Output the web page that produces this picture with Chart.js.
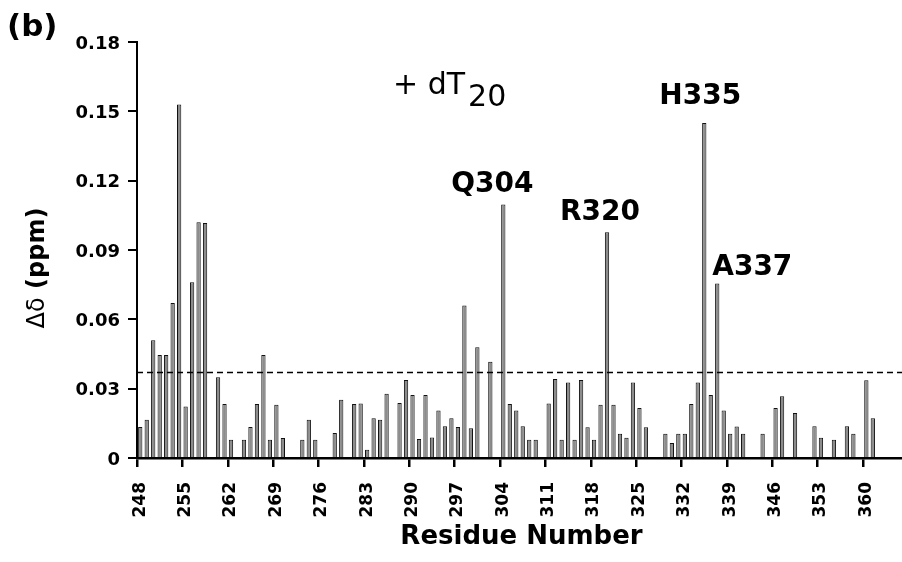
<!DOCTYPE html>
<html>
<head>
<meta charset="utf-8">
<script src="https://cdn.jsdelivr.net/npm/chart.js@4.4.1/dist/chart.umd.min.js"></script>
<style>
  body { margin: 0; background: #fff; }
  #wrap { width: 902px; height: 562px; }
</style>
</head>
<body>
<div id="wrap"><canvas id="shiftChart" width="902" height="562"></canvas></div>
<script>
// residues 248..365, one value per residue (null = no bar)
var firstResidue = 248;
var lastResidue = 365;

var shiftValues = [
  0.0134, 0.0166, 0.0509, 0.0446, 0.0446, 0.0671, 0.153, 0.0223, 0.076, 0.102,    // 248-257
  0.1017, null, 0.0349, 0.0234, 0.0079, null, 0.0079, 0.0134, 0.0234, 0.0446,     // 258-267
  0.0079, 0.023, 0.0087, null, null, 0.0079, 0.0166, 0.0079, null, null,          // 268-277
  0.0108, 0.0252, null, 0.0234, 0.0236, 0.0036, 0.0172, 0.0165, 0.0278, null,     // 278-287
  0.0238, 0.0338, 0.0273, 0.0082, 0.0273, 0.0089, 0.0205, 0.0137, 0.0172, 0.0134, // 288-297
  0.066, 0.0129, 0.0479, null, 0.0417, null, 0.1097, 0.0234, 0.0205, 0.0137,      // 298-307
  0.0079, 0.0079, null, 0.0236, 0.0342, 0.0079, 0.0327, 0.0079, 0.0338, 0.0133,   // 308-317
  0.0079, 0.023, 0.0977, 0.023, 0.0105, 0.0088, 0.0327, 0.0216, 0.0133, null,     // 318-327
  null, 0.0105, 0.0065, 0.0105, 0.0105, 0.0234, 0.0327, 0.145, 0.0273, 0.0755,    // 328-337
  0.0205, 0.0105, 0.0136, 0.0105, null, null, 0.0105, null, 0.0216, 0.0267,       // 338-347
  null, 0.0195, null, null, 0.0137, 0.0088, null, 0.0079, null, 0.0137,           // 348-357
  0.0105, null, 0.0336, 0.0172, null, null, null, null                            // 358-365
];

var tickResidues = [248, 255, 262, 269, 276, 283, 290, 297, 304, 311, 318, 325, 332, 339, 346, 353, 360];
var yTicks = [0, 0.03, 0.06, 0.09, 0.12, 0.15, 0.18];
var threshold = 0.037;

var peakResidues = [304, 320, 335, 337];
var peakNames = ["Q304", "R320", "H335", "A337"];

var residues = [];
for (var r = firstResidue; r <= lastResidue; r++) {
  residues.push(r);
}

// label offsets from the bar top (px)
var peakStyle = {
  304: { dx: -11, dy: -12, align: "center" },
  320: { dx: -7, dy: -12, align: "center" },
  335: { dx: -4, dy: -19, align: "center" },
  337: { dx: -5, dy: -9, align: "left" }
};

var textPlugin = {
  id: "textPlugin",
  afterDraw: function(chart) {
    var ctx = chart.ctx;
    var xs = chart.scales.x;
    var ys = chart.scales.y;
    var area = chart.chartArea;
    ctx.save();

    // dashed threshold line
    var ty = ys.getPixelForValue(threshold);
    ctx.strokeStyle = "#000";
    ctx.lineWidth = 1.5;
    ctx.setLineDash([6, 4]);
    ctx.beginPath();
    ctx.moveTo(area.left, ty);
    ctx.lineTo(area.right, ty);
    ctx.stroke();
    ctx.setLineDash([]);

    ctx.fillStyle = "#000";

    // y tick labels
    ctx.font = "bold 18px 'DejaVu Sans'";
    ctx.textAlign = "right";
    ctx.textBaseline = "middle";
    yTicks.forEach(function(v) {
      var py = ys.getPixelForValue(v);
      ctx.fillText(v === 0 ? "0" : v.toFixed(2), area.left - 17, py + 2);
    });

    // x tick labels, rotated bottom-to-top
    ctx.font = "bold 17px 'DejaVu Sans'";
    tickResidues.forEach(function(res) {
      var px = xs.getPixelForValue(residues.indexOf(res));
      ctx.save();
      ctx.translate(px, area.bottom + 24);
      ctx.rotate(-Math.PI / 2);
      ctx.textAlign = "right";
      ctx.textBaseline = "middle";
      ctx.fillText(String(res), 0, 0);
      ctx.restore();
    });

    // axis titles
    ctx.font = "bold 26px 'DejaVu Sans'";
    ctx.textAlign = "center";
    ctx.textBaseline = "alphabetic";
    ctx.fillText("Residue Number", (area.left + area.right) / 2 + 2, 544);

    ctx.save();
    ctx.translate(44, 268);
    ctx.rotate(-Math.PI / 2);
    ctx.font = "24px 'DejaVu Sans'";
    var w1 = ctx.measureText("\u0394\u03b4").width;
    ctx.font = "bold 24px 'DejaVu Sans'";
    var w2 = ctx.measureText(" (ppm)").width;
    ctx.textAlign = "left";
    ctx.font = "24px 'DejaVu Sans'";
    ctx.fillText("\u0394\u03b4", -(w1 + w2) / 2, 0);
    ctx.font = "bold 24px 'DejaVu Sans'";
    ctx.fillText(" (ppm)", -(w1 + w2) / 2 + w1, 0);
    ctx.restore();

    // panel letter
    ctx.font = "bold 31px 'DejaVu Sans'";
    ctx.textAlign = "left";
    ctx.fillText("(b)", 7, 36);

    // + dT20
    ctx.font = "30px 'DejaVu Sans'";
    ctx.fillText("+ dT", 393, 94);
    var wd = ctx.measureText("+ dT").width;
    ctx.fillText("20", 393 + wd + 3, 106);

    // peak labels
    ctx.font = "bold 28px 'DejaVu Sans'";
    peakResidues.forEach(function(res, k) {
      var i = residues.indexOf(res);
      var st = peakStyle[res];
      var px = xs.getPixelForValue(i);
      var py = ys.getPixelForValue(shiftValues[i]);
      ctx.textAlign = st.align;
      ctx.fillText(peakNames[k], px + st.dx, py + st.dy);
    });

    ctx.restore();
  }
};

var ctx = document.getElementById("shiftChart").getContext("2d");
var chart = new Chart(ctx, {
  type: "bar",
  data: {
    labels: residues,
    datasets: [{
      data: shiftValues,
      backgroundColor: "#8c8c8c",
      borderColor: "#111",
      borderWidth: 1,
      borderSkipped: "bottom",
      barPercentage: 0.66,
      categoryPercentage: 1.0
    }]
  },
  options: {
    responsive: false,
    animation: false,
    layout: { padding: { left: 0, right: 0, top: 42, bottom: 0 } },
    plugins: {
      legend: { display: false },
      tooltip: { enabled: false }
    },
    scales: {
      x: {
        offset: true,
        grid: {
          offset: true,
          drawOnChartArea: false,
          drawTicks: true,
          tickLength: 9,
          lineWidth: 2.5,
          color: function(c) {
            var res = residues[c.index];
            return tickResidues.indexOf(res) >= 0 ? "#000" : "rgba(0,0,0,0)";
          }
        },
        border: { color: "#000", width: 2.5 },
        ticks: { display: false, autoSkip: false },
        afterFit: function(s) { s.height = 104; }
      },
      y: {
        min: 0,
        max: 0.18,
        ticks: { display: false, stepSize: 0.03 },
        grid: { drawOnChartArea: false, tickLength: 9, lineWidth: 2, color: "#000" },
        border: { color: "#000", width: 2 },
        afterFit: function(s) { s.width = 137; }
      }
    }
  },
  plugins: [textPlugin]
});
</script>
</body>
</html>
